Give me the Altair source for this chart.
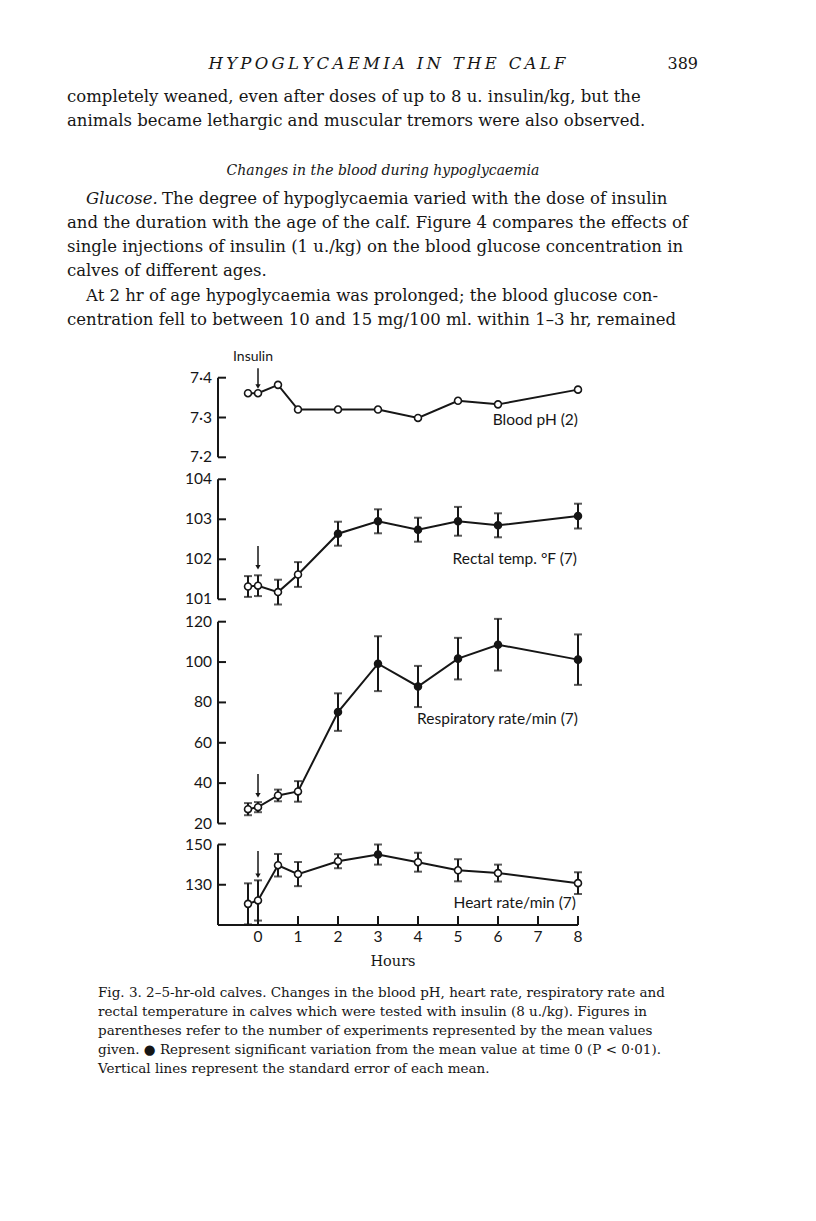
import altair as alt
import pandas as pd

INK = "#161616"

# ---------------- data ----------------
hours = [-0.25, 0, 0.5, 1, 2, 3, 4, 5, 6, 8]

ph_mean = [7.361, 7.361, 7.382, 7.320, 7.320, 7.320, 7.299, 7.342, 7.333, 7.370]

temp_mean = [101.32, 101.34, 101.18, 101.62, 102.64, 102.95, 102.74, 102.95, 102.85, 103.08]
temp_se = [0.26, 0.26, 0.31, 0.31, 0.30, 0.30, 0.30, 0.36, 0.30, 0.31]
temp_sig = [False, False, False, False, True, True, True, True, True, True]

resp_mean = [27.1, 28.1, 33.9, 35.9, 75.2, 99.2, 87.9, 101.7, 108.6, 101.2]
resp_se = [3.0, 2.5, 2.9, 5.1, 9.3, 13.6, 10.2, 10.3, 12.8, 12.5]
resp_sig = [False, False, False, False, True, True, True, True, True, True]

heart_mean = [120.5, 122.2, 139.7, 135.3, 141.7, 145.0, 141.2, 137.2, 135.8, 130.8]
heart_se = [10.2, 10.0, 5.6, 6.0, 3.5, 5.0, 4.7, 5.5, 4.2, 5.4]
heart_sig = [False, False, False, False, False, True, False, False, False, False]

ph_ticks = [7.2, 7.3, 7.4]
ph_tick_labels = ["7·2", "7·3", "7·4"]
temp_ticks = [101, 102, 103, 104]
resp_ticks = [20, 40, 60, 80, 100, 120]
heart_ticks = [130, 150]
hour_ticks = [0, 1, 2, 3, 4, 5, 6, 7, 8]

# axis extents (value range covered by each panel's vertical axis line)
ph_dom = [7.2, 7.4]
temp_dom = [101, 104]
resp_dom = [20, 120]
heart_dom = [110, 150]
hour_dom = [-1, 8]

# insulin arrows (start, head) in each panel's units, at time 0
ph_arrow = [7.424, 7.378]
temp_arrow = [102.33, 101.80]
resp_arrow = [44.5, 34.0]
heart_arrow = [146.8, 134.5]

labels = ["Blood pH (2)", "Rectal temp. °F (7)", "Respiratory rate/min (7)", "Heart rate/min (7)"]

header = "HYPOGLYCAEMIA IN THE CALF"
page_no = "389"
para_a = ["completely weaned, even after doses of up to 8 u. insulin/kg, but the",
          "animals became lethargic and muscular tremors were also observed."]
heading = "Changes in the blood during hypoglycaemia"
glucose_lead = "Glucose."
glucose_rest = "The degree of hypoglycaemia varied with the dose of insulin"
para_b = ["and the duration with the age of the calf. Figure 4 compares the effects of",
          "single injections of insulin (1 u./kg) on the blood glucose concentration in",
          "calves of different ages."]
para_c1 = "At 2 hr of age hypoglycaemia was prolonged; the blood glucose con-"
para_c2 = "centration fell to between 10 and 15 mg/100 ml. within 1–3 hr, remained"
caption = ["Fig. 3. 2–5-hr-old calves. Changes in the blood pH, heart rate, respiratory rate and",
           "rectal temperature in calves which were tested with insulin (8 u./kg). Figures in",
           "parentheses refer to the number of experiments represented by the mean values",
           "given. ● Represent significant variation from the mean value at time 0 (P < 0·01).",
           "Vertical lines represent the standard error of each mean."]

# ---------------- layout ----------------
OX, OY = 218, 8          # page position of the plot origin
W, H = 360, 917

XS = alt.Scale(domain=hour_dom, nice=False, zero=False)


def yscale(dom, top_px, bot_px):
    return alt.Scale(domain=dom, range=[bot_px - OY, top_px - OY], nice=False, zero=False)


YS_PH = yscale(ph_dom, 377.7, 457.3)
YS_T = yscale(temp_dom, 479.3, 599.3)
YS_R = yscale(resp_dom, 621.7, 823.5)
YS_H = yscale(heart_dom, 844.5, 925.0)

SANS = "Lato"
SERIF = "DejaVu Serif"
LAB = 15.5

DUMMY = alt.Data(values=[{"k": 1}])


def panel(mean, se, sig, ys, dom, ticks, tick_labels, arrow, with_x=False):
    df = pd.DataFrame({"hour": hours, "mean": mean})
    if se is not None:
        df["lo"] = [m - s for m, s in zip(mean, se)]
        df["hi"] = [m + s for m, s in zip(mean, se)]
        df["sig"] = sig
    else:
        df["sig"] = [False] * len(mean)
    base = alt.Chart(df)
    X = alt.X("hour:Q", scale=XS, axis=None)
    layers = []
    if se is not None:
        layers.append(base.mark_rule(strokeWidth=2, color=INK).encode(
            x=X, y=alt.Y("lo:Q", scale=ys, axis=None), y2="hi:Q"))
        for c in ["lo", "hi"]:
            layers.append(base.mark_tick(orient="horizontal", size=8, thickness=2, color=INK).encode(
                x=X, y=alt.Y(f"{c}:Q", scale=ys, axis=None)))
    layers.append(base.mark_line(strokeWidth=2, color=INK).encode(
        x=X, y=alt.Y("mean:Q", scale=ys, axis=None)))
    layers.append(base.mark_circle(size=48, stroke=INK, strokeWidth=1.6, opacity=1).encode(
        x=X, y=alt.Y("mean:Q", scale=ys, axis=None),
        fill=alt.condition("datum.sig", alt.value(INK), alt.value("white"))))

    # vertical axis line
    layers.append(alt.Chart(DUMMY).mark_rule(strokeWidth=2, color=INK).encode(
        x=alt.X(datum=hour_dom[0], scale=XS, axis=None),
        y=alt.Y(datum=dom[0], scale=ys, axis=None), y2=alt.datum(dom[1])))
    # inward ticks and tick labels
    tdf = pd.DataFrame({"v": ticks, "lab": tick_labels})
    layers.append(alt.Chart(tdf).mark_rule(strokeWidth=2, color=INK).encode(
        x=alt.X(datum=hour_dom[0], scale=XS, axis=None), x2=alt.datum(hour_dom[0] + 0.2),
        y=alt.Y("v:Q", scale=ys, axis=None)))
    layers.append(alt.Chart(tdf).mark_text(font=SANS, fontSize=LAB, color=INK, align="right",
                                           baseline="middle", dx=-6).encode(
        x=alt.X(datum=hour_dom[0], scale=XS, axis=None),
        y=alt.Y("v:Q", scale=ys, axis=None), text="lab:N"))
    # insulin arrow
    adf = pd.DataFrame({"a": [arrow[0]], "b": [arrow[1]]})
    layers.append(alt.Chart(adf).mark_rule(strokeWidth=1.5, color=INK).encode(
        x=alt.X(datum=0, scale=XS, axis=None), y=alt.Y("a:Q", scale=ys, axis=None), y2="b:Q"))
    layers.append(alt.Chart(adf).mark_point(shape="triangle-down", filled=True, size=28,
                                            color=INK, opacity=1).encode(
        x=alt.X(datum=0, scale=XS, axis=None), y=alt.Y("b:Q", scale=ys, axis=None)))
    if with_x:
        hdf = pd.DataFrame({"h": hour_ticks, "lab": [str(h) for h in hour_ticks]})
        layers.append(alt.Chart(DUMMY).mark_rule(strokeWidth=2, color=INK).encode(
            x=alt.X(datum=hour_dom[0], scale=XS, axis=None), x2=alt.datum(hour_dom[1]),
            y=alt.Y(datum=dom[0], scale=ys, axis=None)))
        layers.append(alt.Chart(hdf).mark_rule(strokeWidth=2, color=INK).encode(
            x=alt.X("h:Q", scale=XS, axis=None),
            y=alt.Y(datum=dom[0], scale=ys, axis=None), y2=alt.datum(dom[0] + 4.5)))
        layers.append(alt.Chart(hdf).mark_text(font=SANS, fontSize=LAB, color=INK, align="center",
                                               baseline="middle", dy=12).encode(
            x=alt.X("h:Q", scale=XS, axis=None),
            y=alt.Y(datum=dom[0], scale=ys, axis=None), text="lab:N"))
    return alt.layer(*layers)


def txt(text, px, py, **kw):
    opts = dict(color=INK, fontSize=16.5, font=SERIF, align="left", baseline="alphabetic")
    opts.update(kw)
    return alt.Chart(DUMMY).mark_text(text=text, **opts).encode(
        x=alt.value(px - OX), y=alt.value(py - OY))


p_ph = panel(ph_mean, None, None, YS_PH, ph_dom, ph_ticks, ph_tick_labels, ph_arrow)
p_t = panel(temp_mean, temp_se, temp_sig, YS_T, temp_dom, temp_ticks,
            [str(v) for v in temp_ticks], temp_arrow)
p_r = panel(resp_mean, resp_se, resp_sig, YS_R, resp_dom, resp_ticks,
            [str(v) for v in resp_ticks], resp_arrow)
p_h = panel(heart_mean, heart_se, heart_sig, YS_H, heart_dom, heart_ticks,
            [str(v) for v in heart_ticks], heart_arrow, with_x=True)

spaced_header = "\u2009".join(header)

texts = [
    txt(spaced_header, 387, 69, fontStyle="italic", align="center", fontSize=16.5),
    txt(page_no, 698, 69, align="right", fontSize=16),
    txt(para_a, 67, 101.5, lineHeight=24),
    txt(heading, 383, 174.5, fontStyle="italic", align="center", fontSize=14),
    txt(glucose_lead, 86, 203.5, fontStyle="italic"),
    txt(glucose_rest, 162, 203.5),
    txt(para_b, 67, 227.5, lineHeight=24),
    txt(para_c1, 86, 300.5),
    txt(para_c2, 67, 324.5),
    txt(caption, 98, 997, lineHeight=19, fontSize=13.5),
    txt("Hours", 393, 962, font=SERIF, fontSize=14.5, align="center", baseline="middle"),
    txt("Insulin", 253, 357, font=SANS, fontSize=14, align="center", baseline="middle"),
    txt(labels[0], 578, 420, font=SANS, fontSize=LAB, align="right", baseline="middle"),
    txt(labels[1], 577, 559, font=SANS, fontSize=LAB, align="right", baseline="middle"),
    txt(labels[2], 578, 719, font=SANS, fontSize=LAB, align="right", baseline="middle"),
    txt(labels[3], 576, 903, font=SANS, fontSize=LAB, align="right", baseline="middle"),
]

chart = alt.layer(p_ph, p_t, p_r, p_h, *texts).resolve_scale(y="independent").properties(
    width=W, height=H,
    padding={"left": OX - 8, "top": OY - 8, "right": 800 - (OX - 8) - W, "bottom": 278},
    autosize=alt.AutoSizeParams(type="none"),
    background="white",
).configure_view(stroke=None)

chart.save("out.html", embed_options={"renderer": "svg", "actions": False})
